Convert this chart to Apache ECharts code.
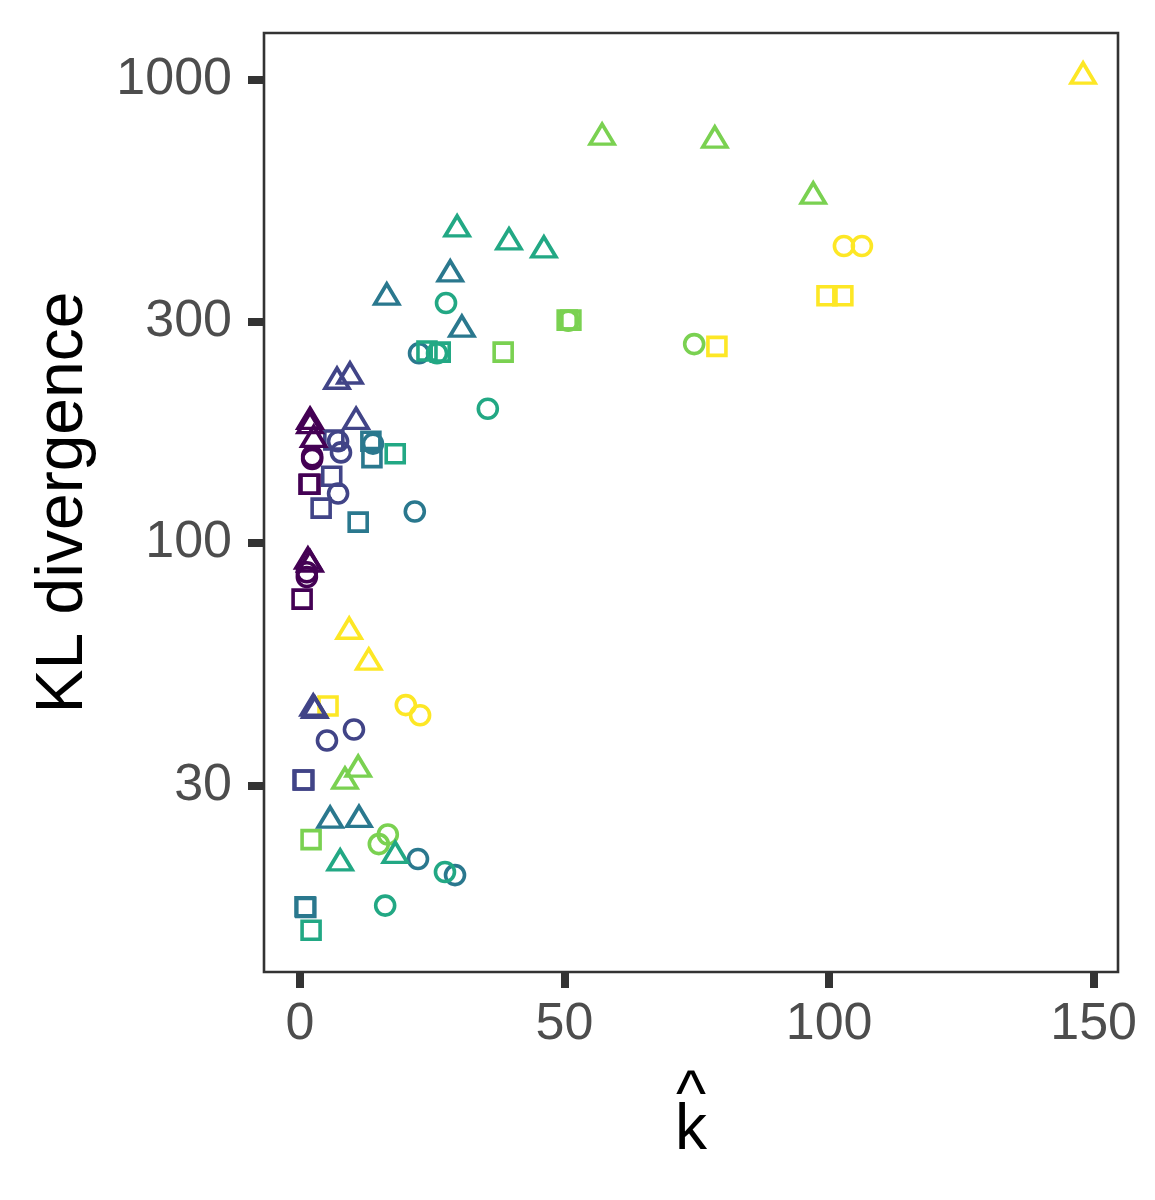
<!DOCTYPE html>
<html lang="en">
    <head>
        <meta charset="utf-8">
        <title>KL divergence vs k-hat</title>
        <script src="https://cdn.jsdelivr.net/npm/echarts@6/dist/echarts.min.js"></script>
        <style>
            html, body { margin: 0; padding: 0; background: #fff; }
            #main { width: 1155px; height: 1200px; }
        </style>
    </head>
    <body>
        <div id="main"></div>
        <script>
            // viridis, 6 levels
            var groupColors = ['#440154', '#414487', '#2A788E', '#22A884', '#7AD151', '#FDE725'];

            // rows: [k-hat, KL divergence, group]
            var circles = [
                [2.3, 152, 0], [2.3, 154, 0], [1.3, 86.5, 0], [1.3, 84.5, 0],
                [7.2, 166, 1], [7.75, 157, 1], [7.2, 128, 1], [5.1, 37.5, 1], [10.2, 39.6, 1],
                [13.8, 164, 2], [22.5, 257, 2], [21.7, 117, 2], [22.3, 20.8, 2], [29.3, 19.2, 2],
                [27.6, 330, 3], [25.9, 257, 3], [35.5, 195, 3], [27.4, 19.5, 3], [16.1, 16.5, 3],
                [50.7, 302, 4], [74.5, 269, 4], [14.9, 22.4, 4], [16.6, 23.5, 4],
                [102.8, 438, 5], [106.2, 438, 5], [20.0, 44.7, 5], [22.7, 42.5, 5]
            ];
            var squares = [
                [1.7, 134, 0], [1.9, 134, 0], [0.4, 75.7, 0],
                [6.4, 167, 1], [6.0, 139.5, 1], [4.0, 119, 1], [0.57, 30.8, 1], [0.75, 30.8, 1],
                [13.4, 166, 2], [13.6, 153, 2], [11.0, 111, 2], [0.95, 16.4, 2], [1.1, 16.35, 2],
                [24.0, 260, 3], [26.5, 258.5, 3], [18.0, 156, 3], [2.1, 14.6, 3],
                [50.5, 303, 4], [51.2, 303, 4], [38.4, 258.5, 4], [2.1, 22.9, 4],
                [99.6, 342, 5], [102.6, 342, 5], [78.8, 266, 5], [5.3, 44.5, 5]
            ];
            var triangles = [
                [1.9, 186, 0], [1.9, 182, 0], [2.6, 170, 0], [1.5, 92.8, 0], [1.9, 91.4, 0],
                [7.0, 227, 1], [9.45, 233, 1], [10.6, 186, 1], [2.5, 44.7, 1], [2.8, 44.2, 1],
                [16.4, 345, 2], [28.4, 387, 2], [30.6, 294, 2], [5.7, 25.6, 2], [11.15, 25.7, 2],
                [29.7, 484, 3], [39.5, 454, 3], [46.1, 436, 3], [7.6, 20.7, 3], [18.0, 21.5, 3],
                [57.1, 764, 4], [78.4, 753, 4], [97.0, 570, 4], [8.5, 31.1, 4], [11.0, 33.0, 4],
                [148.0, 1035, 5], [9.3, 65.5, 5], [13.0, 56.2, 5]
            ];

            var xTicks = [0, 50, 100, 150];
            var yTicks = [30, 100, 300, 1000];

            function shapeSeries(rows, symbol, size) {
                var out = [];
                groupColors.forEach(function(c, g) {
                    out.push({
                        type: 'scatter',
                        symbol: symbol,
                        symbolSize: size,
                        data: rows.filter(function(r) { return r[2] === g; })
                                  .map(function(r) { return [r[0], r[1]]; }),
                        itemStyle: {
                            color: 'rgba(0,0,0,0)',
                            borderColor: c,
                            borderWidth: 3.6,
                            opacity: 1
                        },
                        emphasis: { disabled: true },
                        silent: true
                    });
                });
                return out;
            }

            var tickStyle = { color: '#333333', width: 8, cap: 'butt' };

            var chart = echarts.init(document.getElementById('main'));
            chart.setOption({
                animation: false,
                grid: {
                    left: 264,
                    right: 37,
                    top: 33,
                    bottom: 228,
                    show: true,
                    borderColor: '#333333',
                    borderWidth: 2.6,
                    backgroundColor: '#ffffff'
                },
                xAxis: {
                    type: 'value',
                    min: -6.8,
                    max: 154.6,
                    name: '^\nk',
                    nameLocation: 'middle',
                    nameGap: 108,
                    nameTextStyle: {
                        color: '#000000',
                        fontSize: 64,
                        lineHeight: 34,
                        fontFamily: 'Liberation Sans'
                    },
                    axisLine: { show: false, onZero: false },
                    axisTick: {
                        show: true,
                        length: 16,
                        customValues: xTicks,
                        lineStyle: tickStyle
                    },
                    axisLabel: {
                        customValues: xTicks,
                        margin: 27,
                        color: '#4D4D4D',
                        fontSize: 52,
                        fontFamily: 'Liberation Sans'
                    },
                    splitLine: { show: false }
                },
                yAxis: {
                    type: 'log',
                    logBase: 10,
                    min: 11.86,
                    max: 1263,
                    name: 'KL divergence',
                    nameLocation: 'middle',
                    nameGap: 167,
                    nameTextStyle: {
                        color: '#000000',
                        fontSize: 66,
                        fontFamily: 'Liberation Sans'
                    },
                    axisLine: { show: false, onZero: false },
                    axisTick: {
                        show: true,
                        length: 16,
                        customValues: yTicks,
                        lineStyle: tickStyle
                    },
                    axisLabel: {
                        customValues: yTicks,
                        margin: 32,
                        color: '#4D4D4D',
                        fontSize: 52,
                        fontFamily: 'Liberation Sans',
                        formatter: function(v) { return String(Math.round(v)); }
                    },
                    splitLine: { show: false }
                },
                series: []
                    .concat(shapeSeries(circles, 'circle', 19))
                    .concat(shapeSeries(squares, 'rect', 18))
                    .concat(shapeSeries(triangles, 'triangle', [24, 20]))
            });
        </script>
    </body>
</html>
